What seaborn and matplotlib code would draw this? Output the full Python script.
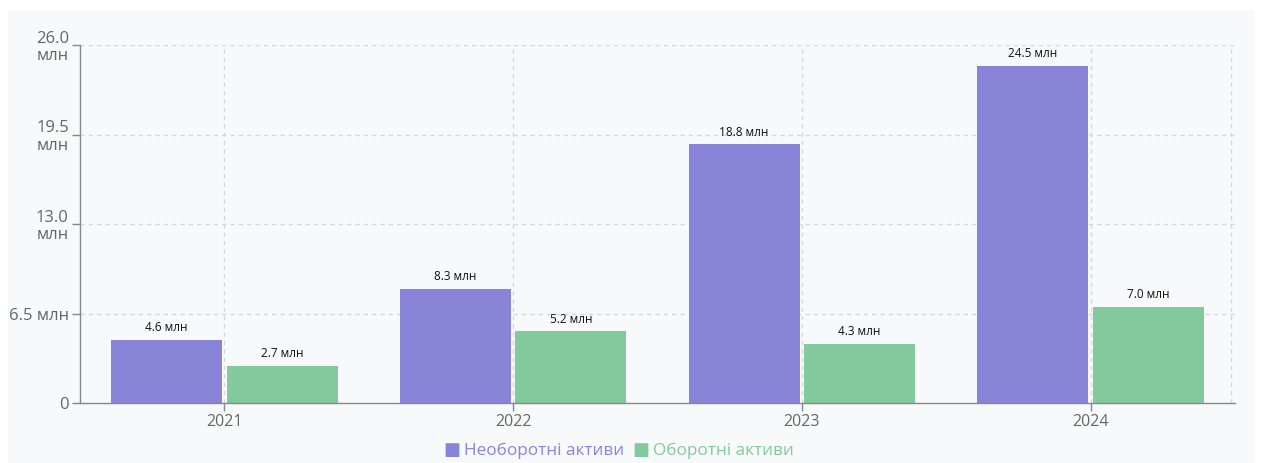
import matplotlib
matplotlib.use("Agg")
import matplotlib.pyplot as plt
import seaborn as sns
import pandas as pd
from matplotlib.patches import Rectangle

years = ["2021", "2022", "2023", "2024"]
series_names = ["Необоротні активи", "Оборотні активи"]
non_current = [4.6, 8.3, 18.8, 24.5]
current = [2.7, 5.2, 4.3, 7.0]
y_ticks = [0, 6.5, 13.0, 19.5, 26.0]
y_tick_labels = ["0", "6.5 млн", "13.0\nмлн", "19.5\nмлн", "26.0\nмлн"]
colors = ["#8884d8", "#82ca9d"]

df = pd.DataFrame({
    "year": years * 2,
    "series": [series_names[0]] * 4 + [series_names[1]] * 4,
    "value": non_current + current,
})

sns.set_theme(style="white")
plt.rcParams["font.family"] = ["Open Sans", "DejaVu Sans"]

fig = plt.figure(figsize=(12.61, 4.63), dpi=100)
fig.patch.set_facecolor("white")
fig.add_artist(Rectangle((8 / 1261, 0), (1255 - 8) / 1261, (463 - 10) / 463,
                         transform=fig.transFigure, facecolor="#f8f9fb",
                         edgecolor="none", zorder=0))
ax = fig.add_axes([80 / 1261, 60 / 463, (1235 - 80) / 1261, (403 - 45) / 463])
ax.set_facecolor("none")

sns.barplot(data=df, x="year", y="value", hue="series", palette=colors,
            width=0.8, gap=0.04, ax=ax, legend=False, saturation=1,
            edgecolor="none")

for cont in ax.containers:
    labels = [f"{v:.1f} млн" for v in cont.datavalues]
    ax.bar_label(cont, labels=labels, padding=4, fontsize=8.5, color="#111111")

ax.set_xlim(-0.5, 3.5)
ax.set_ylim(0, 26.0)
ax.set_yticks(y_ticks)
ax.set_yticklabels(y_tick_labels, fontsize=12, color="#666666", linespacing=1.1)
ax.set_xticks(range(len(years)))
ax.set_xticklabels(years, fontsize=11.5, color="#666666")
ax.set_xlabel("")
ax.set_ylabel("")

grid_kw = dict(color="#d6d6d6", linestyle=(0, (3, 3)), linewidth=1, zorder=0)
for y in y_ticks[1:]:
    ax.axhline(y, **grid_kw)
for x in range(len(years)):
    ax.axvline(x, **grid_kw)
ax.axvline(3.485, **grid_kw)
ax.set_axisbelow(True)

for s in ["top", "right"]:
    ax.spines[s].set_visible(False)
for s in ["left", "bottom"]:
    ax.spines[s].set_color("#888888")
    ax.spines[s].set_linewidth(1)
ax.tick_params(axis="y", length=6, width=1, color="#888888", pad=2, left=True)
ax.tick_params(axis="x", length=6, width=1, color="#888888", pad=2, bottom=True)

# legend: colored squares with colored text
ly = 8 / 463
fig.text(443 / 1261, ly, "■", color=colors[0], fontsize=13, va="baseline", ha="left")
fig.text(464 / 1261, ly, series_names[0], color=colors[0], fontsize=12.3,
         va="baseline", ha="left")
fig.text(632 / 1261, ly, "■", color=colors[1], fontsize=13, va="baseline", ha="left")
fig.text(653 / 1261, ly, series_names[1], color=colors[1], fontsize=12.3,
         va="baseline", ha="left")

fig.savefig("out.png", dpi=100, facecolor="white")
